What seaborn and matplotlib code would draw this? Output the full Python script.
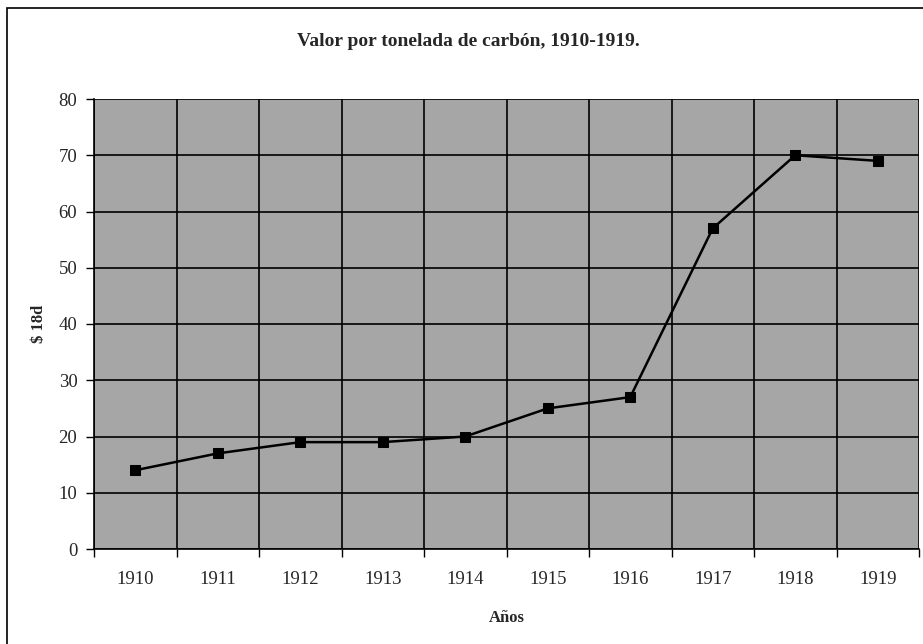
import pandas as pd
import seaborn as sns
import matplotlib.pyplot as plt
from matplotlib.patches import Rectangle

years = ['1910', '1911', '1912', '1913', '1914', '1915', '1916', '1917', '1918', '1919']
valor = [14, 17, 19, 19, 20, 25, 27, 57, 70, 69]
y_ticks = [0, 10, 20, 30, 40, 50, 60, 70, 80]

sns.set_style("white", {'axes.facecolor': '#a6a6a6'})
plt.rcParams.update({
    'font.family': ['Liberation Serif', 'DejaVu Serif'],
    'font.size': 13,
})

df = pd.DataFrame({'pos': range(len(years)), 'valor': valor})

fig = plt.figure(figsize=(9.23, 6.44), dpi=100)
ax = fig.add_axes([94 / 923, 1 - 549 / 644, 825 / 923, 450 / 644])

sns.lineplot(data=df, x='pos', y='valor', ax=ax, color='black', linewidth=1.8,
             marker='s', markersize=6.5, markeredgecolor='black', zorder=5)

ax.set_xlim(-0.5, len(years) - 0.5)
ax.set_ylim(0, 80)
ax.set_yticks(y_ticks)

# category boundaries carry the ticks and the vertical grid, labels sit in the middle
ax.set_xticks([i - 0.5 for i in range(len(years) + 1)])
ax.set_xticklabels([])
ax.set_xticks(range(len(years)), minor=True)
ax.set_xticklabels(years, minor=True)
ax.tick_params(axis='x', which='minor', length=0, pad=16, labelsize=13.5)
ax.tick_params(axis='x', which='major', direction='out', length=6, width=1, color='black', bottom=True)
ax.tick_params(axis='y', direction='out', length=6, width=1, color='black', left=True, pad=6, labelsize=13.5)

ax.grid(True, which='major', color='black', linewidth=1.2)
ax.set_axisbelow(True)

for side in ['top', 'right']:
    ax.spines[side].set_visible(False)
for side in ['left', 'bottom']:
    ax.spines[side].set_color('black')
    ax.spines[side].set_linewidth(1.2)

ax.set_xlabel('Años', fontweight='bold', fontsize=12, labelpad=16)
ax.set_ylabel('$ 18d', fontweight='bold', fontsize=12, labelpad=8)
fig.text(468 / 923, 1 - 41 / 644, 'Valor por tonelada de carbón, 1910-1919.',
         ha='center', va='center', fontweight='bold', fontsize=14)

fig.add_artist(Rectangle((6.5 / 923, -0.05), 1.2, 1.05 - 7.5 / 644, transform=fig.transFigure,
                         fill=False, edgecolor='black', linewidth=1.2, clip_on=False))

plt.savefig('out.png', dpi=100)
